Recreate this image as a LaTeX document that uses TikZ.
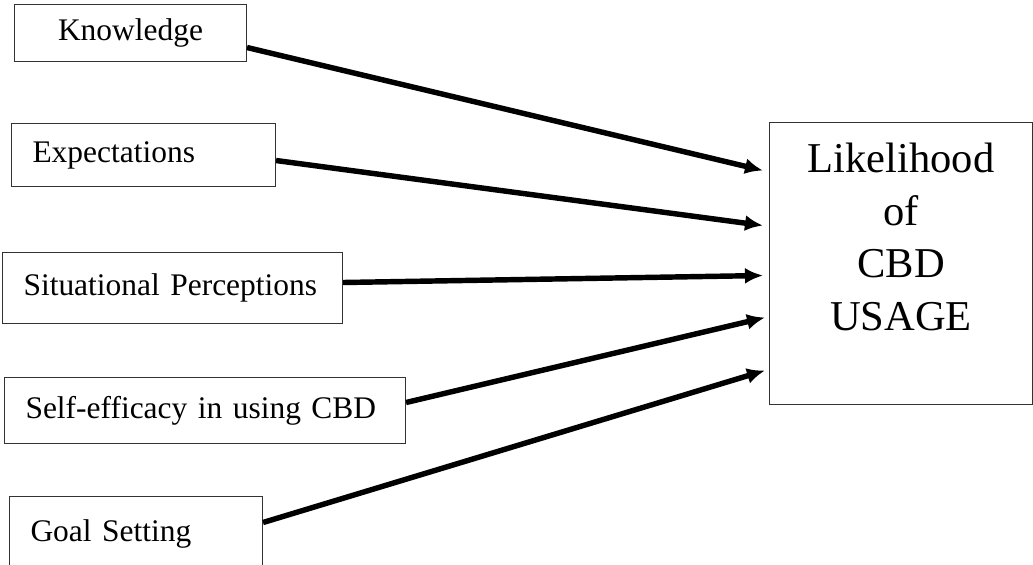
\documentclass[tikz,border=0pt]{standalone}
\usepackage{fontspec}
\setmainfont{Liberation Serif}
\usetikzlibrary{positioning,arrows.meta}

\begin{document}
\begin{tikzpicture}[scale=1,
	factor/.style={draw=black!80,line width=0.6pt,inner xsep=0.42cm,inner ysep=0pt,align=left,anchor=north west,font=\fontsize{17.9}{21.5}\selectfont},
	outcome/.style={draw=black!80,line width=0.6pt,anchor=north west,minimum width=5.26cm,minimum height=5.64cm,inner sep=0pt},
	outtext/.style={inner sep=0pt,align=center,font=\fontsize{24.2}{29.9}\selectfont},
	link/.style={-{Latex[length=0.36cm,width=0.32cm]},line width=3.1pt}]
	\useasboundingbox (0,0) rectangle (20.66,11.3);

	%facteurs
	\node[factor,align=center,text width=3.8cm,minimum height=1.14cm] (know) at (0.28,11.22) {Knowledge};
	\node[factor,text width=4.44cm,minimum height=1.26cm] (expect) at (0.22,8.84) {Expectations};
	\node[factor,text width=5.96cm,minimum height=1.42cm] (situ) at (0.04,6.26) {Situational Perceptions};
	\node[factor,text width=7.18cm,minimum height=1.32cm] (self) at (0.08,3.76) {Self-efficacy in using CBD};
	\node[factor,text width=4.22cm,minimum height=1.48cm] (goal) at (0.18,1.38) {Goal Setting};

	%cible
	\node[outcome] (usage) at (15.38,8.86) {};
	\node[outtext,below=0.42cm of usage.north] (usagetxt) {Likelihood\\of\\CBD\\USAGE};

	%fleches
	\draw [link] ([yshift=-0.29cm]know.east) -- ([xshift=-0.12cm,yshift=1.86cm]usage.west);
	\draw [link] ([yshift=-0.11cm]expect.east) -- ([xshift=-0.12cm,yshift=0.76cm]usage.west);
	\draw [link] ([yshift=0.11cm]situ.east) -- ([xshift=-0.12cm,yshift=-0.24cm]usage.west);
	\draw [link] ([yshift=0.16cm]self.east) -- ([xshift=-0.08cm,yshift=-1.08cm]usage.west);
	\draw [link] ([yshift=0.22cm]goal.east) -- ([xshift=-0.08cm,yshift=-2.14cm]usage.west);
\end{tikzpicture}
\end{document}
